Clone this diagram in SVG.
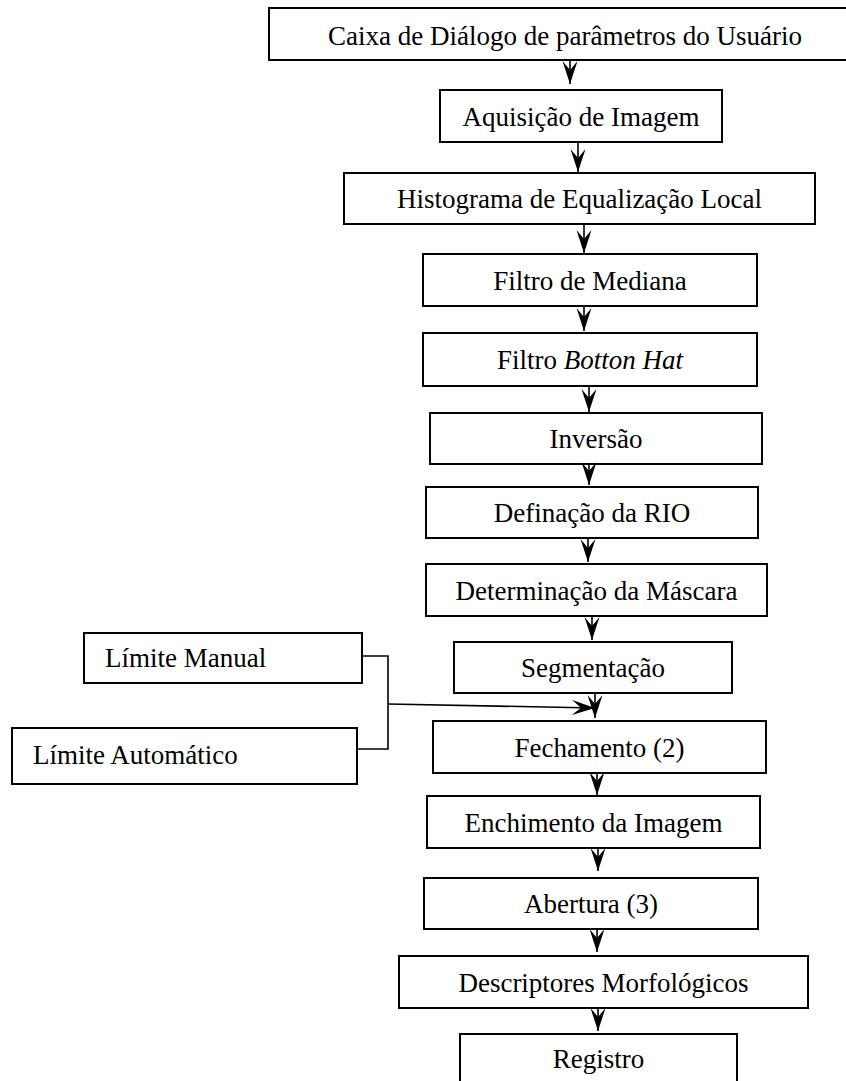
<svg xmlns="http://www.w3.org/2000/svg" width="846" height="1081" viewBox="0 0 846 1081">
<style>
.box{fill:#fff;stroke:#000;stroke-width:2}
.t{font-family:"Liberation Serif","Times New Roman",serif;font-size:27px;fill:#000;text-anchor:middle}
.tl{font-family:"Liberation Serif","Times New Roman",serif;font-size:27px;fill:#000;text-anchor:start}
.c{fill:none;stroke:#000;stroke-width:1.6}
</style>
<defs>
<marker id="ah" markerUnits="userSpaceOnUse" viewBox="-24 -8 26 16" refX="0" refY="0" markerWidth="26" markerHeight="16" orient="auto" overflow="visible">
<path d="M0,0 L-23,-7.5 L-14,0 L-23,7.5 Z" fill="#000"/>
</marker>
</defs>
<rect width="846" height="1081" fill="#fff"/>
<g id="n1"><rect class="box" x="269" y="8" width="588" height="52"/><text class="t" x="565" y="45">Caixa de Diálogo de parâmetros do Usuário</text></g>
<g id="n2"><rect class="box" x="440" y="90" width="282" height="52"/><text class="t" x="581" y="126">Aquisição de Imagem</text></g>
<g id="n3"><rect class="box" x="344" y="173" width="471" height="51"/><text class="t" x="579.5" y="208">Histograma de Equalização Local</text></g>
<g id="n4"><rect class="box" x="423" y="254" width="334" height="52"/><text class="t" x="590" y="290">Filtro de Mediana</text></g>
<g id="n5"><rect class="box" x="423" y="333" width="334" height="53"/><text class="t" x="590" y="368.5">Filtro <tspan font-style="italic">Botton Hat</tspan></text></g>
<g id="n6"><rect class="box" x="430" y="413" width="332" height="51"/><text class="t" x="596" y="448">Inversão</text></g>
<g id="n7"><rect class="box" x="426" y="487" width="332" height="51"/><text class="t" x="592" y="522">Definação da RIO</text></g>
<g id="n8"><rect class="box" x="426" y="564" width="341" height="52"/><text class="t" x="596.5" y="600">Determinação da Máscara</text></g>
<g id="n9"><rect class="box" x="454" y="642" width="278" height="51"/><text class="t" x="593" y="677">Segmentação</text></g>
<g id="n10"><rect class="box" x="433" y="721" width="333" height="52"/><text class="t" x="599.5" y="757">Fechamento (2)</text></g>
<g id="n11"><rect class="box" x="427" y="796" width="333" height="52"/><text class="t" x="593.5" y="832">Enchimento da Imagem</text></g>
<g id="n12"><rect class="box" x="424" y="878" width="334" height="51"/><text class="t" x="591" y="913">Abertura (3)</text></g>
<g id="n13"><rect class="box" x="399" y="956" width="409" height="52"/><text class="t" x="603.5" y="992">Descriptores Morfológicos</text></g>
<g id="n14"><rect class="box" x="460" y="1034" width="277" height="60"/><text class="t" x="598.5" y="1068">Registro</text></g>
<g id="n15"><rect class="box" x="84" y="633" width="278" height="50"/><text class="tl" x="105" y="667">Límite Manual</text></g>
<g id="n16"><rect class="box" x="12" y="728" width="345" height="56"/><text class="tl" x="33" y="764">Límite Automático</text></g>
<g id="connectors">
<line class="c" x1="570" y1="60" x2="570" y2="84" marker-end="url(#ah)"/>
<line class="c" x1="578" y1="142" x2="578" y2="172" marker-end="url(#ah)"/>
<line class="c" x1="584" y1="224" x2="584" y2="253" marker-end="url(#ah)"/>
<line class="c" x1="584" y1="306" x2="584" y2="331" marker-end="url(#ah)"/>
<line class="c" x1="589" y1="386" x2="589" y2="412" marker-end="url(#ah)"/>
<line class="c" x1="589" y1="464" x2="589" y2="485" marker-end="url(#ah)"/>
<line class="c" x1="588" y1="538" x2="588" y2="562" marker-end="url(#ah)"/>
<line class="c" x1="592" y1="616" x2="592" y2="640" marker-end="url(#ah)"/>
<line class="c" x1="595" y1="693" x2="595" y2="718" marker-end="url(#ah)"/>
<polyline class="c" points="362,656 388,656 388,749 357,749"/>
<line class="c" x1="388" y1="704" x2="595" y2="708" marker-end="url(#ah)"/>
<line class="c" x1="597" y1="773" x2="597" y2="795" marker-end="url(#ah)"/>
<line class="c" x1="598" y1="848" x2="598" y2="871" marker-end="url(#ah)"/>
<line class="c" x1="597" y1="929" x2="597" y2="952" marker-end="url(#ah)"/>
<line class="c" x1="598" y1="1008" x2="598" y2="1031" marker-end="url(#ah)"/>
</g>
</svg>
